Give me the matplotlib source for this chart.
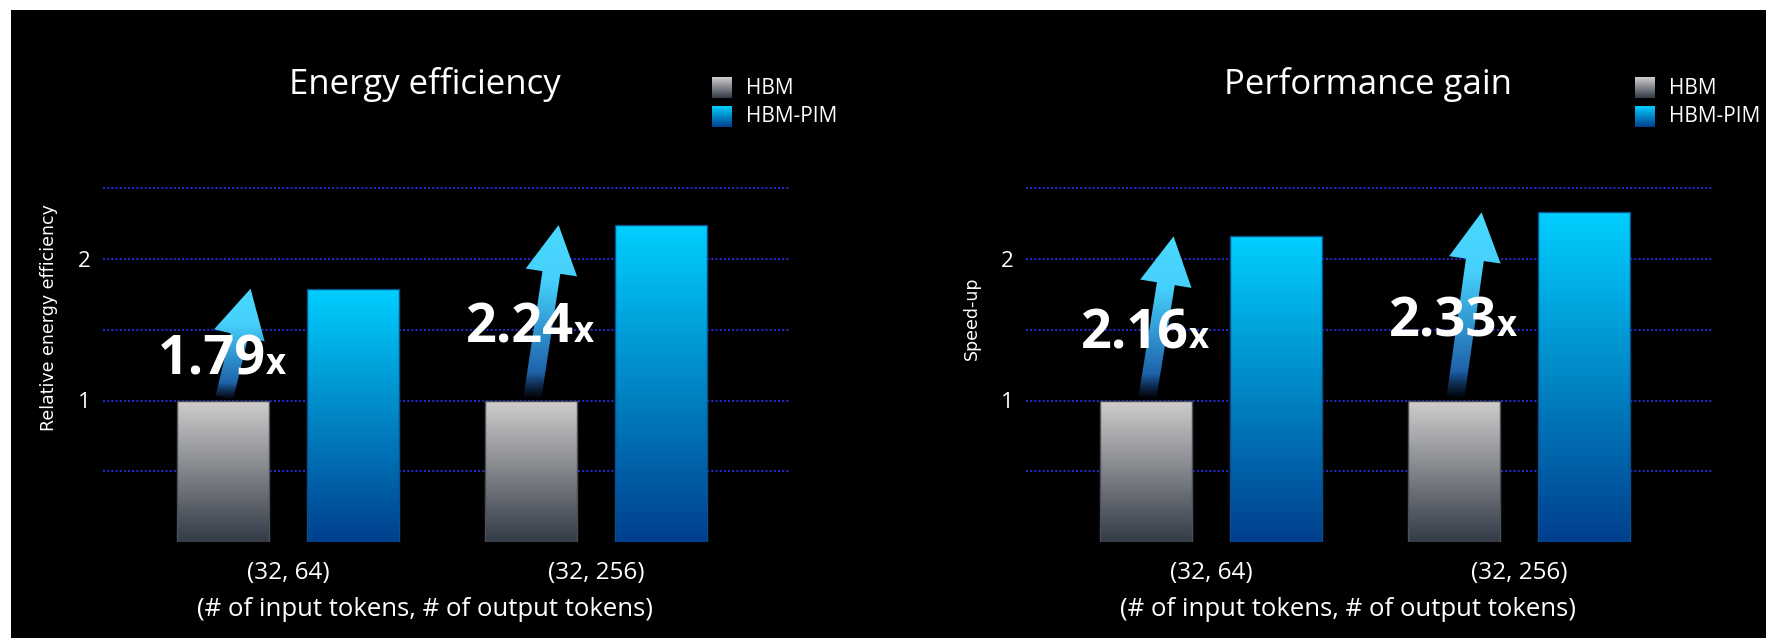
import numpy as np
import matplotlib
matplotlib.use("Agg")
import matplotlib.pyplot as plt
from matplotlib.colors import LinearSegmentedColormap, to_rgb
from matplotlib.patches import Rectangle, Polygon

# ---- data ----
groups = ["(32, 64)", "(32, 256)"]
series = ["HBM", "HBM-PIM"]
energy_hbm = [1.0, 1.0]
energy_pim = [1.79, 2.24]
speed_hbm = [1.0, 1.0]
speed_pim = [2.16, 2.33]

panels = [
    {"title": "Energy efficiency", "ylabel": "Relative energy efficiency",
     "hbm": energy_hbm, "pim": energy_pim},
    {"title": "Performance gain", "ylabel": "Speed-up",
     "hbm": speed_hbm, "pim": speed_pim},
]

# ---- style ----
W, H = 1766, 638
FONT = "Open Sans"
HBM_TOP, HBM_BOT = "#d0cece", "#333b47"
PIM_TOP, PIM_BOT = "#00cfff", "#003f8e"
GRID = "#2328c2"
BAR_W = 0.30
OFFSET = 0.211
YMAX = 2.6

fig = plt.figure(figsize=(W / 100, H / 100), dpi=100, facecolor="white")
fig.patches.append(Rectangle((11 / W, 0), 1, 1 - 10 / H, transform=fig.transFigure,
                             facecolor="black", edgecolor="none", zorder=-10))


def px_axes(left, bottom_px, width, height):
    # pixel box (top-left origin) -> figure fraction
    return [left / W, (H - bottom_px) / H, width / W, height / H]


def gradient_bar(ax, patch, top, bottom):
    x0, y0 = patch.get_x(), patch.get_y()
    w, h = patch.get_width(), patch.get_height()
    cmap = LinearSegmentedColormap.from_list("g", [bottom, top])
    grad = np.linspace(1, 0, 256).reshape(-1, 1)
    im = ax.imshow(grad, cmap=cmap, aspect="auto", origin="upper",
                   extent=[x0, x0 + w, y0, y0 + h], zorder=2)
    im.set_clip_path(patch)


def gradient_arrow(ax, x0, y0, x1, y1):
    p0 = ax.transData.transform((x0, y0))
    p1 = ax.transData.transform((x1, y1))
    d = p1 - p0
    u = d / np.hypot(*d)
    n = np.array([-u[1], u[0]])
    head_len, head_w, shaft_w = 48, 52, 18
    base = p1 - u * head_len
    pts = np.array([p0 + n * shaft_w / 2, base + n * shaft_w / 2, base + n * head_w / 2, p1,
                    base - n * head_w / 2, base - n * shaft_w / 2, p0 - n * shaft_w / 2])
    pts = ax.transData.inverted().transform(pts)
    poly = Polygon(pts, closed=True, facecolor="none", edgecolor="none", zorder=3)
    ax.add_patch(poly)

    # colour stops from tip (0) to tail (1)
    stops = [0.0, 0.32, 0.85, 1.0]
    cols = [to_rgb("#4bd9ff"), to_rgb("#45d0fb"), to_rgb("#1f62aa"), to_rgb("#1a4a8e")]
    alph = [1.0, 1.0, 1.0, 0.0]
    s = np.linspace(0, 1, 256)
    img = np.zeros((256, 1, 4))
    for c in range(3):
        img[:, 0, c] = np.interp(s, stops, [col[c] for col in cols])
    img[:, 0, 3] = np.interp(s, stops, alph)
    ymin, ymax = pts[:, 1].min(), pts[:, 1].max()
    im = ax.imshow(img, aspect="auto", origin="upper",
                   extent=[pts[:, 0].min(), pts[:, 0].max(), ymin, ymax], zorder=3)
    im.set_clip_path(poly)


def legend_square(left, top, top_col, bot_col):
    lax = fig.add_axes(px_axes(left, top + 21, 20, 21))
    cmap = LinearSegmentedColormap.from_list("l", [bot_col, top_col])
    lax.imshow(np.linspace(1, 0, 64).reshape(-1, 1), cmap=cmap, aspect="auto")
    lax.set_axis_off()


axes_left = [103, 1026]
title_x = [425, 1368]
for k, p in enumerate(panels):
    left = axes_left[k]
    ax = fig.add_axes(px_axes(left, 542, 686, YMAX * 141.5))
    ax.set_facecolor("none")
    x = np.arange(len(groups))

    b1 = ax.bar(x - OFFSET, p["hbm"], BAR_W, facecolor="none", edgecolor="#4a4f58", lw=1, zorder=4)
    b2 = ax.bar(x + OFFSET, p["pim"], BAR_W, facecolor="none", edgecolor="#0b4f8a", lw=1, zorder=4)
    for r in b1:
        gradient_bar(ax, r, HBM_TOP, HBM_BOT)
    for r in b2:
        gradient_bar(ax, r, PIM_TOP, PIM_BOT)

    ax.set_xlim(-0.6, 1.627)
    ax.set_ylim(0, YMAX)

    for i in range(len(groups)):
        xh = x[i] - OFFSET
        v = p["pim"][i]
        gradient_arrow(ax, xh + 0.005, p["hbm"][i] + 0.02, xh + 0.09, v)
        yb = max((p["hbm"][i] + v) / 2 - 0.21, p["hbm"][i] + 0.12)
        ax.text(xh + 0.14, yb, f"{v:.2f}", color="white", fontsize=39, fontweight="bold",
                family=FONT, ha="right", va="baseline", zorder=5)
        ax.text(xh + 0.14, yb, "x", color="white", fontsize=25, fontweight="bold",
                family=FONT, ha="left", va="baseline", zorder=5)

    ax.set_yticks([0.5, 1, 1.5, 2, 2.5])
    ax.set_yticklabels(["", "1", "", "2", ""])
    ax.grid(axis="y", color=GRID, linestyle=(0, (1, 1)), lw=1.5, zorder=0)
    ax.set_axisbelow(True)
    ax.tick_params(axis="y", length=0, pad=9, colors="white", labelsize=16)
    ax.set_xticks(x)
    ax.set_xticklabels(groups)
    ax.tick_params(axis="x", length=0, pad=14, colors="white", labelsize=17.5)
    for lab in ax.get_xticklabels() + ax.get_yticklabels():
        lab.set_family(FONT)
    for sp in ax.spines.values():
        sp.set_visible(False)

    ax.set_ylabel(p["ylabel"], color="white", fontsize=12.5, family="DejaVu Sans", va="center")
    ax.yaxis.set_label_coords(-54 / 686, (542 - 318) / (YMAX * 141.5))
    ax.set_xlabel("(# of input tokens, # of output tokens)", color="white", fontsize=18.5,
                  family=FONT, va="center")
    ax.xaxis.set_label_coords(322 / 686, -(610 - 542) / (YMAX * 141.5))

    fig.text(title_x[k] / W, 1 - 84 / H, p["title"], color="white", fontsize=25,
             family=FONT, ha="center", va="center")

    legend_square(left + 609, 77, HBM_TOP, HBM_BOT)
    legend_square(left + 609, 106, PIM_TOP, PIM_BOT)
    fig.text((left + 643) / W, 1 - 88 / H, series[0], color="white", fontsize=15,
             family=FONT, ha="left", va="center")
    fig.text((left + 643) / W, 1 - 117 / H, series[1], color="white", fontsize=15,
             family=FONT, ha="left", va="center")

fig.savefig("out.png", dpi=100, facecolor=fig.get_facecolor())
